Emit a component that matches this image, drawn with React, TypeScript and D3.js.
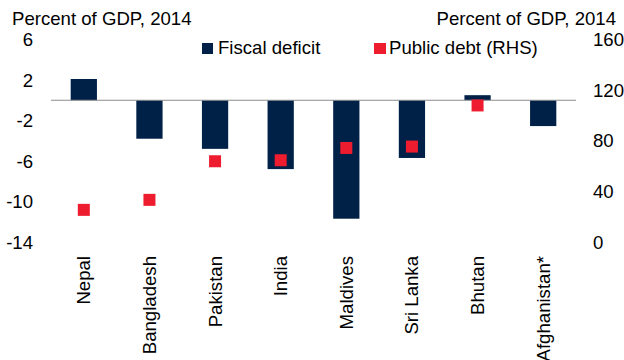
import React from 'react';
import {scaleLinear, scaleBand} from 'd3';

const countries = ['Nepal', 'Bangladesh', 'Pakistan', 'India', 'Maldives', 'Sri Lanka', 'Bhutan', 'Afghanistan*'];
const fiscalDeficit = [2.1, -3.8, -4.8, -6.8, -11.7, -5.7, 0.5, -2.55];
const publicDebt: (number | null)[] = [25.4, 33.3, 63.8, 64.6, 74.3, 75.4, 107.9, null];
const leftTicks = [6, 2, -2, -6, -10, -14];
const rightTicks = [160, 120, 80, 40, 0];

const NAVY = '#002147';
const RED = '#ed1c2e';
const FONT = '"Liberation Sans", Arial, sans-serif';
const FS = 18.6;

const App = (): JSX.Element => {
    const x = scaleBand<string>().domain(countries).range([51, 576]).paddingInner(0.6).paddingOuter(0.3);
    const yL = scaleLinear().domain([-14, 6]).range([242, 39.5]);
    const yR = scaleLinear().domain([0, 160]).range([242, 39.5]);
    const bw = x.bandwidth();

    return (
        <div style={{position: 'absolute', left: 0, top: 0}}>
            <svg width={624} height={360} viewBox="0 0 624 360" fontFamily={FONT}>
                <rect width={624} height={360} fill="#fff" />
                <text x={12} y={25} fontSize={FS}>Percent of GDP, 2014</text>
                <text x={616} y={25} fontSize={FS} textAnchor="end">Percent of GDP, 2014</text>

                {/* legend */}
                <rect x={202} y={43} width={11} height={11} fill={NAVY} />
                <text x={218} y={54} fontSize={FS}>Fiscal deficit</text>
                <rect x={374} y={43} width={12} height={11} fill={RED} />
                <text x={389} y={54} fontSize={FS}>Public debt (RHS)</text>

                {leftTicks.map(t => (
                    <text key={'l' + t} x={33} y={yL(t)} fontSize={FS} textAnchor="end" dominantBaseline="central">{t}</text>
                ))}
                {rightTicks.map(t => (
                    <text key={'r' + t} x={593} y={yR(t)} fontSize={FS} dominantBaseline="central">{t}</text>
                ))}

                {countries.map((c, i) => {
                    const v = fiscalDeficit[i];
                    return (
                        <rect key={'b' + c} x={x(c)} y={Math.min(yL(v), yL(0))} width={bw}
                              height={Math.abs(yL(v) - yL(0))} fill={NAVY} />
                    );
                })}
                <line x1={51} x2={576} y1={yL(0)} y2={yL(0)} stroke="#8c8c8c" strokeWidth={1} />

                {countries.map((c, i) => {
                    const d = publicDebt[i];
                    if (d === null) return null;
                    const cx = (x(c) as number) + bw / 2;
                    return <rect key={'d' + c} x={cx - 6} y={yR(d) - 6} width={12} height={12} fill={RED} />;
                })}

                {countries.map(c => (
                    <text key={'x' + c} fontSize={FS} textAnchor="end" dominantBaseline="central"
                          transform={`translate(${(x(c) as number) + bw / 2},256) rotate(-90)`}>{c}</text>
                ))}
            </svg>
        </div>
    );
};

export default App;
